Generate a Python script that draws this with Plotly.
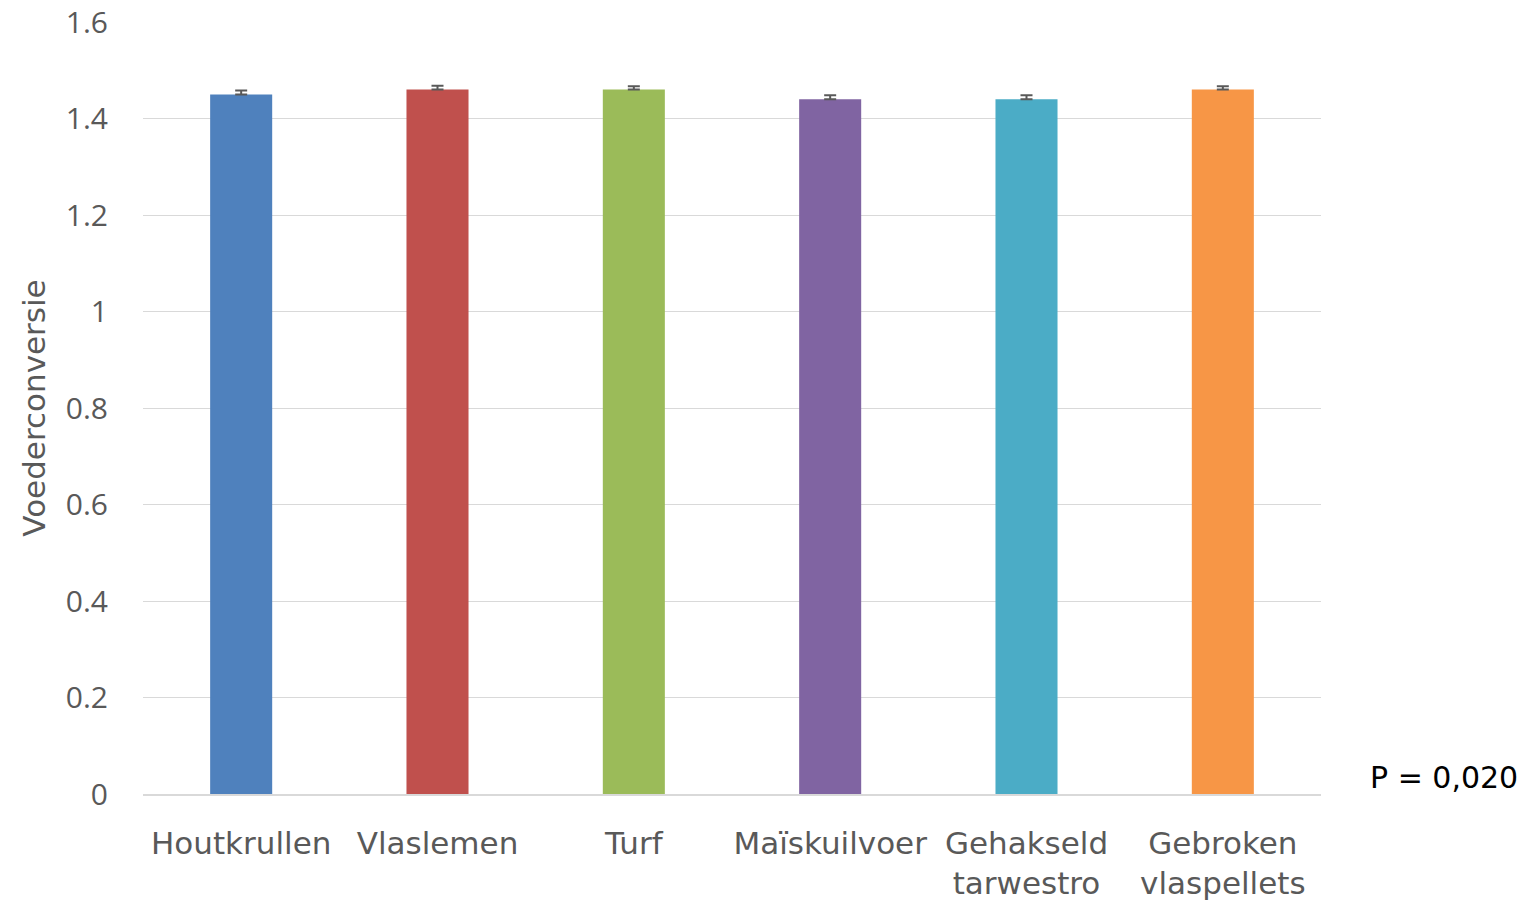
import plotly.graph_objects as go

categories = ["Houtkrullen", "Vlaslemen", "Turf", "Maïskuilvoer", "Gehakseld<br>tarwestro", "Gebroken<br>vlaspellets"]
values = [1.45, 1.46, 1.46, 1.44, 1.44, 1.46]
errors = [0.008, 0.008, 0.007, 0.008, 0.008, 0.007]
colors = ["#4F81BD", "#C0504D", "#9BBB59", "#8064A2", "#4BACC6", "#F79646"]
y_ticks = [0, 0.2, 0.4, 0.6, 0.8, 1, 1.2, 1.4, 1.6]
y_ticktext = ["0", "0.2", "0.4", "0.6", "0.8", "1", "1.2", "1.4", "1.6"]

fig = go.Figure()
fig.add_trace(go.Bar(
    x=categories, y=values,
    marker=dict(color=colors, line=dict(width=0)),
    error_y=dict(type="data", array=errors, arrayminus=[0]*len(errors), symmetric=False,
                 color="#595959", thickness=2, width=6),
))

wide_font = "DejaVu Sans, sans-serif"
digit_font = "Open Sans, sans-serif"
fig.update_layout(
    width=1527, height=905,
    margin=dict(l=143, r=206, t=22, b=111),
    plot_bgcolor="white", paper_bgcolor="white",
    bargap=0.684,
    showlegend=False,
    font=dict(family=wide_font, size=28, color="#595959"),
    xaxis=dict(showgrid=False, showline=True, linecolor="#d9d9d9", linewidth=1.5,
               ticks="", automargin=False, ticklabelstandoff=21,
               tickfont=dict(family=wide_font, size=31, color="#595959")),
    yaxis=dict(range=[0, 1.6], tickvals=y_ticks, ticktext=y_ticktext,
               showgrid=True, gridcolor="#d9d9d9", gridwidth=1.2,
               zeroline=False, showline=False, ticks="", ticklen=0,
               automargin=False, ticklabelstandoff=34,
               tickfont=dict(family=digit_font, size=30, color="#595959"),
               title=dict(text="Voederconversie", font=dict(family=wide_font, size=31, color="#595959"), standoff=10)),
)
fig.add_annotation(text="P = 0,020", xref="paper", yref="y", x=1.1044, y=0.035,
                   xanchor="center", yanchor="middle", showarrow=False,
                   font=dict(size=30, color="black", family=wide_font))

fig.write_html("out.html", config={"displayModeBar": False},
               post_script="document.body.style.margin='0';document.body.style.overflow='hidden';")
